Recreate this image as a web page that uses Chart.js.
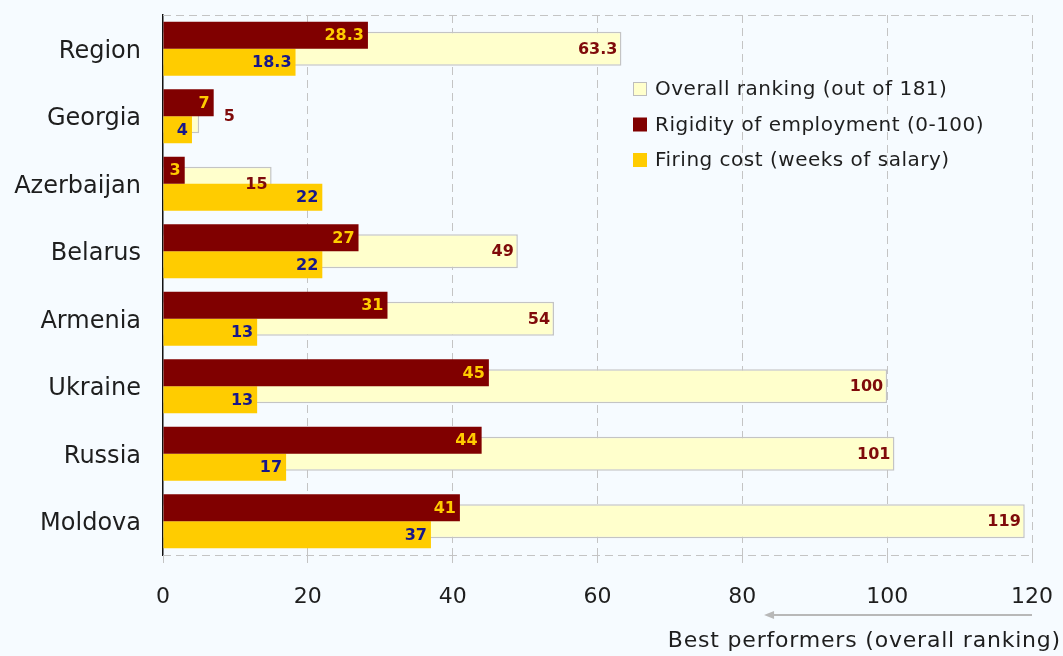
<!DOCTYPE html>
<html>
<head>
<meta charset="utf-8">
<script src="https://cdn.jsdelivr.net/npm/chart.js@4/dist/chart.umd.min.js"></script>
<style>
  html, body { margin: 0; padding: 0; background: #f6fbff; overflow: hidden; }
  canvas { display: block; }
</style>
</head>
<body>
<canvas id="labourChart" width="1063" height="656"></canvas>
<script>
const countries = ['Region', 'Georgia', 'Azerbaijan', 'Belarus', 'Armenia', 'Ukraine', 'Russia', 'Moldova'];
const overallRanking = [63.3, 5, 15, 49, 54, 100, 101, 119];
const rigidity = [28.3, 7, 3, 27, 31, 45, 44, 41];
const firingCost = [18.3, 4, 22, 22, 13, 13, 17, 37];
const xTicks = [0, 20, 40, 60, 80, 100, 120];

const FONT = '"DejaVu Sans", sans-serif';
const TEXT = '#1e1e1e';

// value labels at the inside end of each bar
const valueLabels = {
  id: 'valueLabels',
  afterDatasetsDraw(chart) {
    const ctx = chart.ctx;
    const upper = chart.getDatasetMeta(0).data;
    ctx.save();
    ctx.font = 'bold 16px ' + FONT;
    ctx.textBaseline = 'middle';
    chart.data.datasets.forEach((ds, di) => {
      const meta = chart.getDatasetMeta(di);
      meta.data.forEach((bar, i) => {
        const txt = String(ds.data[i]);
        const w = ctx.measureText(txt).width;
        ctx.fillStyle = ds.labelColor;
        // the overall bar only has free room right of the upper bar
        const start = di === 2 ? upper[i].x : bar.base;
        if (bar.x - start > w + 8) {
          ctx.textAlign = 'right';
          ctx.fillText(txt, bar.x - 4, bar.y + 1);
        } else {
          ctx.textAlign = 'left';
          ctx.fillText(txt, Math.max(bar.x, start) + 10, bar.y + 1);
        }
      });
    });
    ctx.restore();
  }
};

// dashed frame top/bottom, legend, and the ranking arrow under the axis
const decorations = {
  id: 'decorations',
  beforeDatasetsDraw(chart) {
    const {ctx, chartArea: a} = chart;
    ctx.save();
    ctx.strokeStyle = '#c4c4c4';
    ctx.lineWidth = 1;
    ctx.setLineDash([8, 5]);
    ctx.beginPath();
    ctx.moveTo(a.left, a.top + 0.5); ctx.lineTo(a.right, a.top + 0.5);
    ctx.moveTo(a.left, a.bottom + 0.5); ctx.lineTo(a.right, a.bottom + 0.5);
    ctx.stroke();
    ctx.restore();
  },
  afterDraw(chart) {
    const {ctx} = chart;
    const x = chart.scales.x;
    ctx.save();

    // legend
    const items = [chart.data.datasets[2], chart.data.datasets[0], chart.data.datasets[1]];
    ctx.font = '20px ' + FONT;
    ctx.letterSpacing = '0.5px';
    ctx.textBaseline = 'middle';
    ctx.textAlign = 'left';
    items.forEach((ds, k) => {
      const y = 89 + k * 35.5;
      ctx.fillStyle = ds.backgroundColor;
      ctx.fillRect(633, y - 7, 14, 14);
      if (ds.borderWidth) {
        ctx.strokeStyle = '#bdbdbd';
        ctx.lineWidth = 1;
        ctx.strokeRect(633.5, y - 6.5, 13, 13);
      }
      ctx.fillStyle = TEXT;
      ctx.fillText(ds.label, 655, y + 1);
    });

    // arrow pointing toward better ranks
    const ay = 615;
    const x0 = x.getPixelForValue(120);
    const x1 = x.getPixelForValue(83);
    ctx.strokeStyle = '#b8b8b8';
    ctx.fillStyle = '#b8b8b8';
    ctx.lineWidth = 2;
    ctx.beginPath();
    ctx.moveTo(x0, ay); ctx.lineTo(x1 + 6, ay);
    ctx.stroke();
    ctx.beginPath();
    ctx.moveTo(x1, ay); ctx.lineTo(x1 + 10, ay - 4); ctx.lineTo(x1 + 10, ay + 4);
    ctx.closePath();
    ctx.fill();

    ctx.font = '22px ' + FONT;
    ctx.letterSpacing = '0.8px';
    ctx.fillStyle = TEXT;
    ctx.textAlign = 'right';
    ctx.fillText('Best performers (overall ranking)', 1061, 641);
    ctx.restore();
  }
};

new Chart(document.getElementById('labourChart'), {
  type: 'bar',
  data: {
    labels: countries,
    datasets: [
      {
        label: 'Rigidity of employment (0-100)',
        data: rigidity,
        backgroundColor: '#800000',
        labelColor: '#ffcc00',
        categoryPercentage: 0.8,
        barPercentage: 1.0,
        order: 0
      },
      {
        label: 'Firing cost (weeks of salary)',
        data: firingCost,
        backgroundColor: '#ffcc00',
        labelColor: '#17178a',
        categoryPercentage: 0.8,
        barPercentage: 1.0,
        order: 0
      },
      {
        label: 'Overall ranking (out of 181)',
        data: overallRanking,
        backgroundColor: '#ffffcc',
        borderColor: '#c4c4c4',
        borderWidth: 1.5,
        borderSkipped: 'left',
        labelColor: '#7f0a0a',
        grouped: false,
        barPercentage: 0.63,
        order: 2
      }
    ]
  },
  options: {
    indexAxis: 'y',
    responsive: false,
    maintainAspectRatio: false,
    animation: false,
    devicePixelRatio: 1,
    layout: { padding: { top: 15, right: 31, left: 0, bottom: 0 } },
    plugins: {
      legend: { display: false },
      tooltip: { enabled: false }
    },
    scales: {
      x: {
        min: 0,
        max: 120,
        afterBuildTicks: (s) => { s.ticks = xTicks.map(v => ({ value: v })); },
        afterFit: (s) => { s.height = 101; s.paddingLeft = 0; s.paddingRight = 0; },
        grid: {
          color: (c) => c.index === 0 ? 'rgba(0,0,0,0)' : '#c4c4c4',
          lineWidth: 1,
          tickLength: 8,
          tickColor: '#c4c4c4'
        },
        border: { display: false, dash: [8, 5] },
        ticks: {
          color: TEXT,
          padding: 21,
          maxRotation: 0,
          autoSkip: false,
          font: { family: FONT, size: 22 }
        }
      },
      y: {
        afterFit: (s) => { s.width = 163; s.paddingTop = 0; s.paddingBottom = 0; },
        grid: { display: false },
        border: { display: true, color: '#111', width: 1.5 },
        ticks: {
          color: TEXT,
          padding: 14,
          labelOffset: 3,
          font: { family: FONT, size: 24 }
        }
      }
    }
  },
  plugins: [valueLabels, decorations]
});
</script>
</body>
</html>
